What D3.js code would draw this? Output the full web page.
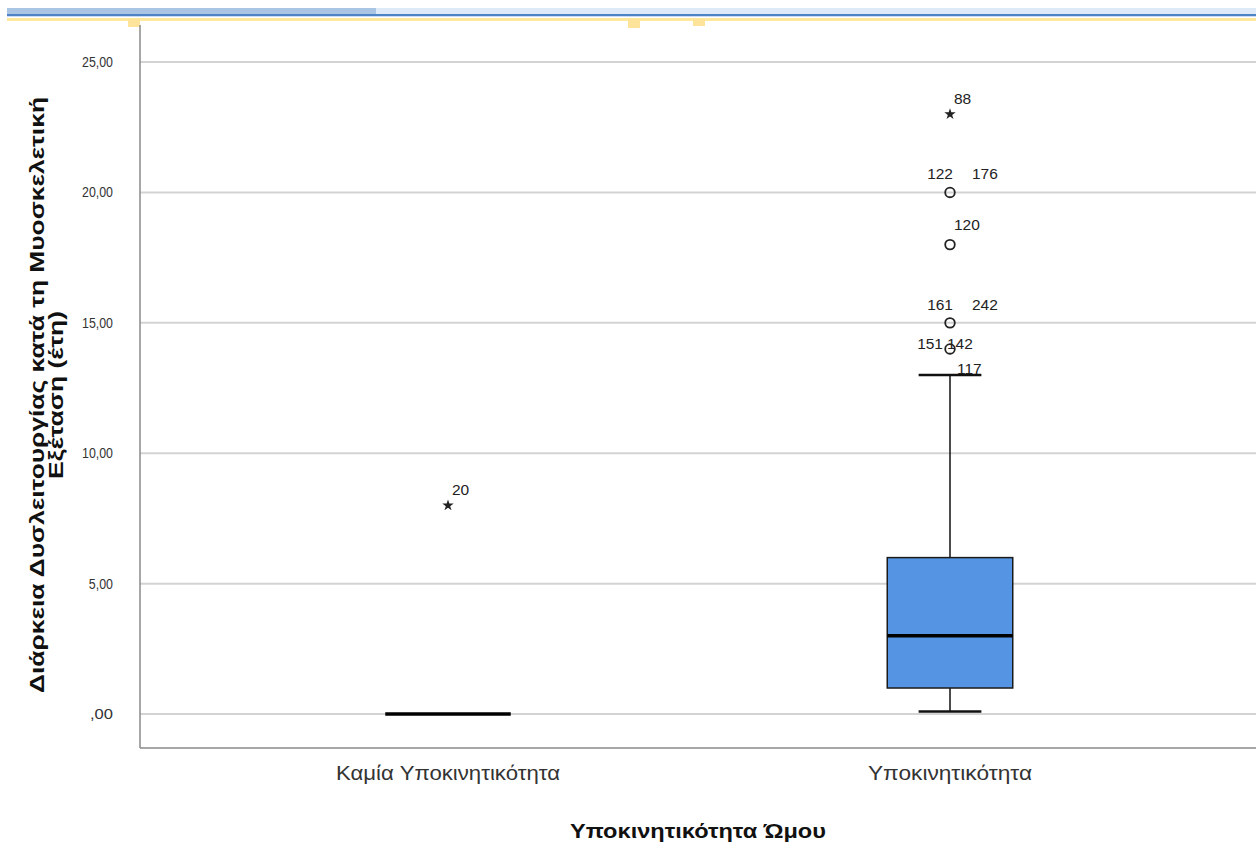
<!DOCTYPE html>
<html>
<head>
<meta charset="utf-8">
<script src="https://cdn.jsdelivr.net/npm/d3@7"></script>
<style>
  html, body { margin: 0; padding: 0; background: #ffffff; }
  svg { display: block; }
  text { font-family: "Liberation Sans", Arial, sans-serif; }
</style>
</head>
<body>
<svg id="chart" width="1256" height="859"></svg>
<script>
// Groups and box statistics (years)
const categories = ["Καμία Υποκινητικότητα", "Υποκινητικότητα"];
const q1Values = [0, 1];
const medianValues = [0, 3];
const q3Values = [0, 6];
const whiskerLowValues = [0, 0.1];
const whiskerHighValues = [0, 13];

// Outlying cases: group index, value, case ids, marker kind
const outlierGroup = [0, 1, 1, 1, 1, 1];
const outlierValue = [8, 23, 20, 18, 15, 14];
const outlierIds = [["20"], ["88"], ["122", "176"], ["120"], ["161", "242"], ["151", "142"]];
const outlierKind = ["extreme", "extreme", "outlier", "outlier", "outlier", "outlier"];

// Case labelled at the end of the upper whisker
const whiskerCaseGroup = [1];
const whiskerCaseId = ["117"];

const yTicks = [0, 5, 10, 15, 20, 25];
const yTickLabels = [",00", "5,00", "10,00", "15,00", "20,00", "25,00"];

const yTitleLines = ["Διάρκεια Δυσλειτουργίας κατά τη Μυοσκελετική", "Εξέταση (έτη)"];
const xTitle = "Υποκινητικότητα Ώμου";

const svg = d3.select("#chart");
const W = 1256, H = 859;
const plot = { left: 140, right: 1256, top: 25, bottom: 748 };

// Window chrome strip along the top edge
const strip = svg.append("g");
strip.append("rect").attr("x", 7).attr("y", 8).attr("width", W - 7).attr("height", 6).attr("fill", "#dfeaf8");
strip.append("rect").attr("x", 7).attr("y", 8).attr("width", 369).attr("height", 6).attr("fill", "#aac5e4");
strip.append("rect").attr("x", 7).attr("y", 14).attr("width", W - 7).attr("height", 2).attr("fill", "#4d83c4");
strip.append("rect").attr("x", 7).attr("y", 16).attr("width", W - 7).attr("height", 1).attr("fill", "#c9dcf1");
strip.append("rect").attr("x", 7).attr("y", 18).attr("width", W - 7).attr("height", 3).attr("fill", "#fde89e");
[[128, 8], [628, 9], [693, 7]].forEach(([x, h]) => {
  strip.append("rect").attr("x", x).attr("y", 19).attr("width", 12).attr("height", h).attr("fill", "#fde49a");
});

// Scales
const y = d3.scaleLinear().domain([-1.3, 26.42]).range([plot.bottom, plot.top]);
const x = d3.scaleBand().domain(categories).range([197, 1201]);
const cx = i => x(categories[i]) + x.bandwidth() / 2;
const boxW = x.bandwidth() * 0.25;
const capW = boxW * 0.5;

// Gridlines
svg.append("g").selectAll("line").data(yTicks).join("line")
  .attr("x1", plot.left).attr("x2", plot.right)
  .attr("y1", d => y(d)).attr("y2", d => y(d))
  .attr("stroke", "#d3d3d3").attr("stroke-width", 2);

// Y axis
const yAxis = d3.axisLeft(y).tickValues(yTicks)
  .tickFormat((d, i) => yTickLabels[i]).tickSize(0).tickPadding(27);
const yg = svg.append("g").attr("transform", `translate(${plot.left},0)`).call(yAxis);
yg.select(".domain").remove();
yg.selectAll("text").attr("font-size", 14).attr("fill", "#333")
  .attr("font-family", "Liberation Sans, Arial, sans-serif")
  .attr("textLength", d => d === 0 ? 23 : d < 10 ? 31 * 0.78 : 31)
  .attr("lengthAdjust", "spacingAndGlyphs");

// X axis
const xAxis = d3.axisBottom(x).tickSize(0).tickPadding(18);
const xg = svg.append("g").attr("transform", `translate(0,${plot.bottom})`).call(xAxis);
xg.select(".domain").remove();
xg.selectAll("text").attr("font-size", 20).attr("fill", "#333")
  .attr("font-family", "Liberation Sans, Arial, sans-serif")
  .attr("textLength", (d, i) => i === 0 ? 224 : 164)
  .attr("lengthAdjust", "spacingAndGlyphs");

// Axis lines
svg.append("line").attr("x1", plot.left).attr("x2", plot.left)
  .attr("y1", plot.top).attr("y2", plot.bottom)
  .attr("stroke", "#8a8a8a").attr("stroke-width", 1.5);
svg.append("line").attr("x1", plot.left).attr("x2", plot.right)
  .attr("y1", plot.bottom).attr("y2", plot.bottom)
  .attr("stroke", "#8a8a8a").attr("stroke-width", 1.5);

// Boxes
const boxes = svg.append("g");
categories.forEach((c, i) => {
  const g = boxes.append("g");
  const xc = cx(i);
  if (whiskerHighValues[i] > q3Values[i]) {
    g.append("line").attr("x1", xc).attr("x2", xc)
      .attr("y1", y(q3Values[i])).attr("y2", y(whiskerHighValues[i]))
      .attr("stroke", "#111").attr("stroke-width", 1.5);
    g.append("line").attr("x1", xc - capW / 2).attr("x2", xc + capW / 2)
      .attr("y1", y(whiskerHighValues[i])).attr("y2", y(whiskerHighValues[i]))
      .attr("stroke", "#111").attr("stroke-width", 2.5);
  }
  if (whiskerLowValues[i] < q1Values[i]) {
    g.append("line").attr("x1", xc).attr("x2", xc)
      .attr("y1", y(q1Values[i])).attr("y2", y(whiskerLowValues[i]))
      .attr("stroke", "#111").attr("stroke-width", 1.5);
    g.append("line").attr("x1", xc - capW / 2).attr("x2", xc + capW / 2)
      .attr("y1", y(whiskerLowValues[i])).attr("y2", y(whiskerLowValues[i]))
      .attr("stroke", "#111").attr("stroke-width", 2.5);
  }
  if (q3Values[i] > q1Values[i]) {
    g.append("rect").attr("x", xc - boxW / 2).attr("width", boxW)
      .attr("y", y(q3Values[i])).attr("height", y(q1Values[i]) - y(q3Values[i]))
      .attr("fill", "#5594e2").attr("stroke", "#1a1a1a").attr("stroke-width", 1.5);
  }
  g.append("line").attr("x1", xc - boxW / 2).attr("x2", xc + boxW / 2)
    .attr("y1", y(medianValues[i])).attr("y2", y(medianValues[i]))
    .attr("stroke", "#000").attr("stroke-width", 3.5);
});

// Outliers and their case labels
const marks = svg.append("g");
const labelStyle = sel => sel.attr("font-size", 15.5).attr("fill", "#222");
outlierValue.forEach((v, k) => {
  const xc = cx(outlierGroup[k]);
  const yc = y(v);
  if (outlierKind[k] === "extreme") {
    marks.append("path").attr("d", d3.symbol(d3.symbolStar, 40)())
      .attr("transform", `translate(${xc},${yc})`).attr("fill", "#222");
  } else {
    marks.append("circle").attr("cx", xc).attr("cy", yc).attr("r", 4.8)
      .attr("fill", "none").attr("stroke", "#222").attr("stroke-width", 1.8);
  }
  const ids = outlierIds[k];
  // a neighbouring case just above pushes labels down beside the marker
  const crowded = outlierValue.some((w, j) => j !== k && outlierGroup[j] === outlierGroup[k] && w > v && w - v < 1.5);
  if (ids.length === 1) {
    const dy = outlierKind[k] === "extreme" ? -10 : -15;
    marks.append("text").attr("x", xc + 4).attr("y", yc + dy).text(ids[0]).call(labelStyle);
  } else if (crowded) {
    marks.append("text").attr("x", xc - 7).attr("y", yc + 0).attr("text-anchor", "end").text(ids[0]).call(labelStyle);
    marks.append("text").attr("x", xc - 3).attr("y", yc + 0).text(ids[1]).call(labelStyle);
  } else {
    marks.append("text").attr("x", xc + 3).attr("y", yc - 13).attr("text-anchor", "end").text(ids[0]).call(labelStyle);
    marks.append("text").attr("x", xc + 22).attr("y", yc - 13).text(ids[1]).call(labelStyle);
  }
});
whiskerCaseGroup.forEach((gi, k) => {
  marks.append("text").attr("x", cx(gi) + 7).attr("y", y(whiskerHighValues[gi]) - 1)
    .text(whiskerCaseId[k]).call(labelStyle);
});

// Axis titles
const yTitle = svg.append("text")
  .attr("transform", `translate(45,395) rotate(-90)`)
  .attr("text-anchor", "middle").attr("font-size", 21).attr("font-weight", "bold").attr("fill", "#111");
yTitleLines.forEach((t, i) => {
  yTitle.append("tspan").attr("x", 0).attr("dy", i === 0 ? -1 : 19)
    .attr("textLength", i === 0 ? 596 : 168).attr("lengthAdjust", "spacingAndGlyphs").text(t);
});
svg.append("text").attr("x", (plot.left + plot.right) / 2).attr("y", 838)
  .attr("text-anchor", "middle").attr("font-size", 20).attr("font-weight", "bold").attr("fill", "#111")
  .attr("textLength", 256).attr("lengthAdjust", "spacingAndGlyphs")
  .text(xTitle);
</script>
</body>
</html>
